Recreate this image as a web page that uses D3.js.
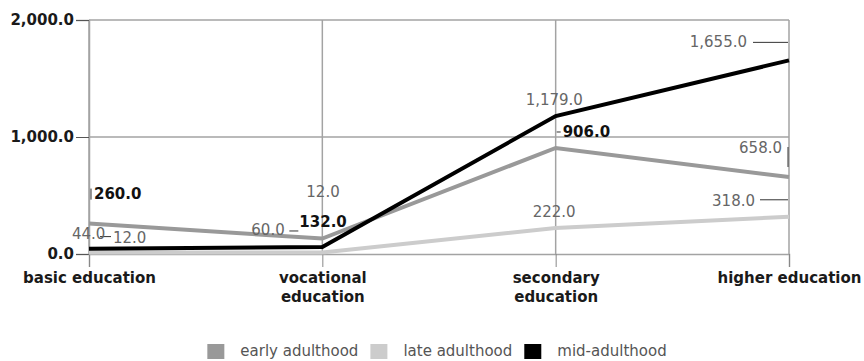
<!DOCTYPE html>
<html>
<head>
<meta charset="utf-8">
<script src="https://cdn.jsdelivr.net/npm/d3@7"></script>
<style>
  html, body { margin: 0; padding: 0; background: #fff; }
  svg { display: block; font-family: "DejaVu Sans", Verdana, sans-serif; }
</style>
</head>
<body>
<svg id="chart" width="864" height="361"></svg>
<script>
// Education level by life stage
const categories = ["basic education", "vocational education", "secondary education", "higher education"];
const seriesNames = ["early adulthood", "late adulthood", "mid-adulthood"];
const earlyAdulthood = [260, 132, 906, 658];
const lateAdulthood = [12, 12, 222, 318];
const midAdulthood = [44, 60, 1179, 1655];
const yTicks = [0, 1000, 2000];

const seriesColors = {
  "early adulthood": "#999999",
  "late adulthood": "#cccccc",
  "mid-adulthood": "#000000"
};

// value label placement relative to each point: offset, anchor, weight, optional leader segment
const labelLayout = {
  "early adulthood": [
    { dx: 5, dy: -25, anchor: "start", bold: true, leader: [2, -35, 2, -24] },
    { dx: -23, dy: -12, anchor: "start", bold: true, leader: null },
    { dx: 7, dy: -11, anchor: "start", bold: true, leader: [1, -16, 5, -16] },
    { dx: -7, dy: -24, anchor: "end", bold: false, leader: [-1, -30, -1, -10] }
  ],
  "late adulthood": [
    { dx: 24, dy: -10, anchor: "start", bold: false, leader: [11, -16, 22, -16] },
    { dx: -16, dy: -56, anchor: "start", bold: false, leader: null },
    { dx: -23, dy: -11, anchor: "start", bold: false, leader: null },
    { dx: -34, dy: -11, anchor: "end", bold: false, leader: [-29, -17, -1, -17] }
  ],
  "mid-adulthood": [
    { dx: -17, dy: -10, anchor: "start", bold: false, leader: null },
    { dx: -71, dy: -12, anchor: "start", bold: false, leader: [-33, -16, -24, -16] },
    { dx: -30, dy: -11, anchor: "start", bold: false, leader: null },
    { dx: -42, dy: -13, anchor: "end", bold: false, leader: [-36, -18, -1, -18] }
  ]
};

const series = [
  { name: "late adulthood", values: lateAdulthood },
  { name: "early adulthood", values: earlyAdulthood },
  { name: "mid-adulthood", values: midAdulthood }
];

const svg = d3.select("#chart");
const margin = { left: 89, right: 75, top: 20, bottom: 107 };
const W = 864, H = 361;

const x = d3.scalePoint().domain(categories).range([margin.left, W - margin.right]);
const y = d3.scaleLinear().domain([0, 2000]).range([H - margin.bottom, margin.top]);

const fmt = d3.format(",.1f");
const gridColor = "#a3a3a3";

// horizontal gridlines
svg.append("g").selectAll("line")
  .data(yTicks.filter(d => d > 0))
  .join("line")
  .attr("x1", x.range()[0]).attr("x2", x.range()[1])
  .attr("y1", d => y(d)).attr("y2", d => y(d))
  .attr("stroke", gridColor).attr("stroke-width", 1.5);

// vertical gridlines
svg.append("g").selectAll("line")
  .data(categories)
  .join("line")
  .attr("x1", d => x(d)).attr("x2", d => x(d))
  .attr("y1", y(2000)).attr("y2", y(0))
  .attr("stroke", gridColor).attr("stroke-width", 1.5);

// y axis
const yAxis = svg.append("g")
  .attr("transform", `translate(${margin.left},0)`)
  .call(d3.axisLeft(y).tickValues(yTicks).tickFormat(fmt).tickSize(13).tickPadding(2));
yAxis.select(".domain").attr("stroke", gridColor).attr("stroke-width", 1.5);
yAxis.selectAll(".tick line").attr("stroke", "#555");
yAxis.selectAll(".tick text")
  .attr("fill", "#1a1a1a").attr("font-size", 15).attr("font-weight", "bold")
  .attr("font-family", "DejaVu Sans, Verdana, sans-serif");

// x axis
const xAxis = svg.append("g")
  .attr("transform", `translate(0,${y(0)})`)
  .call(d3.axisBottom(x).tickSize(13).tickPadding(5));
xAxis.select(".domain").attr("stroke", gridColor).attr("stroke-width", 1.5);
xAxis.selectAll(".tick line").attr("stroke", "#888");
xAxis.selectAll(".tick text")
  .attr("fill", "#1a1a1a").attr("font-size", 15).attr("font-weight", "bold")
  .attr("font-family", "DejaVu Sans, Verdana, sans-serif")
  .each(function (d) {
    // wrap long category names onto two lines
    const t = d3.select(this);
    if (this.getComputedTextLength() <= 150) return;
    const words = d.split(" ");
    t.text(null);
    words.forEach((w, i) => {
      t.append("tspan").attr("x", 0).attr("dy", i === 0 ? "0.71em" : 19).text(w);
    });
    t.attr("dy", null);
  });

// series lines
const line = d3.line()
  .x((d, i) => x(categories[i]))
  .y(d => y(d));

svg.append("g").selectAll("path")
  .data(series)
  .join("path")
  .attr("d", s => line(s.values))
  .attr("fill", "none")
  .attr("stroke", s => seriesColors[s.name])
  .attr("stroke-width", 4);

// value labels with leaders
const labelG = svg.append("g");
series.forEach(s => {
  s.values.forEach((v, i) => {
    const px = x(categories[i]), py = y(v);
    const L = labelLayout[s.name][i];
    if (L.leader) {
      labelG.append("line")
        .attr("x1", px + L.leader[0]).attr("y1", py + L.leader[1])
        .attr("x2", px + L.leader[2]).attr("y2", py + L.leader[3])
        .attr("stroke", "#333").attr("stroke-width", 1);
    }
    labelG.append("text")
      .attr("x", px + L.dx).attr("y", py + L.dy)
      .attr("text-anchor", L.anchor)
      .attr("font-size", 15)
      .attr("font-weight", L.bold ? "bold" : "normal")
      .attr("fill", L.bold ? "#111" : "#666")
      .text(fmt(v));
  });
});

// legend
const legend = svg.append("g");
let lx = 0;
seriesNames.forEach(name => {
  const g = legend.append("g").attr("transform", `translate(${lx},0)`);
  g.append("rect").attr("x", 0).attr("y", 344).attr("width", 17).attr("height", 15)
    .attr("fill", seriesColors[name]);
  const t = g.append("text").attr("x", 33).attr("y", 356)
    .attr("font-size", 15).attr("fill", "#555").text(name);
  lx += 33 + t.node().getComputedTextLength() + 12;
});
const legendWidth = lx - 12;
legend.attr("transform", `translate(${437 - legendWidth / 2},0)`);
</script>
</body>
</html>
